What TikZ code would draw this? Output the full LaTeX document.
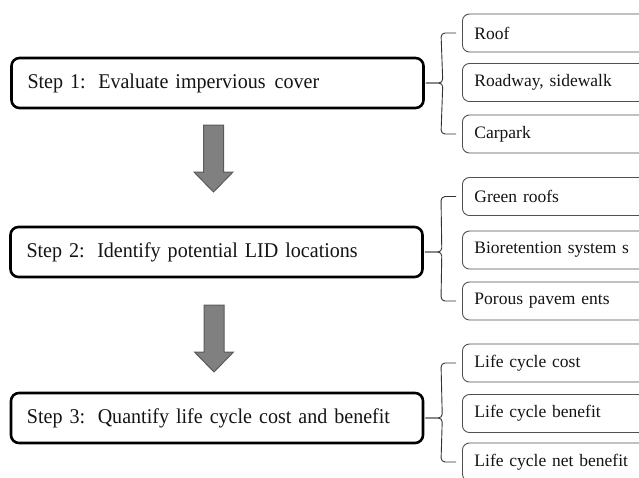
\documentclass[tikz,border=0pt]{standalone}
\usepackage{fontspec}
\setmainfont{Liberation Serif}
\newfontfamily\stepfont{Liberation Serif}[FakeStretch=0.955]
\usetikzlibrary{calc}
\definecolor{txt}{HTML}{141414}
\definecolor{arrfill}{HTML}{808080}
\definecolor{arrline}{HTML}{5A5A5A}
\definecolor{boxline}{HTML}{505050}
\tikzset{
  stepbox/.style={draw=black, line width=2.6pt, rounded corners=8pt, fill=white,
    minimum width=412pt, minimum height=50pt, inner xsep=16pt, text width=380pt,
    align=left, font=\stepfont\fontsize{21}{25}\selectfont, text=txt},
  itembox/.style={draw=boxline, line width=0.9pt, rounded corners=7pt, fill=white,
    minimum width=260pt, minimum height=38pt, anchor=west, inner xsep=12pt,
    text width=236pt, align=left, font=\fontsize{17.5}{21}\selectfont, text=txt},
  bracestyle/.style={draw=black!80, line width=0.9pt, rounded corners=4pt},
  bigarrow/.style={fill=arrfill, draw=arrline, line width=1pt, line join=miter}
}
\begin{document}
\begin{tikzpicture}[x=1pt,y=-1pt]
\useasboundingbox (0,0) rectangle (639,477);
\clip (0,0) rectangle (639,477);
% step boxes
\node[stepbox] (s1) at (217.5,83) {Step 1:\hspace{2pt} Evaluate impervious\hspace{2pt} cover};
\node[stepbox] (s2) at (216.5,252) {Step 2:\hspace{2pt} Identify potential LID locations};
\node[stepbox] (s3) at (217,418) {Step 3:\hspace{2pt} Quantify life cycle cost and benefit};
% item boxes
\node[itembox] (a1) at (462,33) {Roof};
\node[itembox] (a2) at (462,82.5) {Roadway, sidewalk};
\node[itembox] (a3) at (462,134) {Carpark};
\node[itembox] (b1) at (462,196.5) {Green roofs};
\node[itembox] (b2) at (462,250) {Bioretention system s};
\node[itembox] (b3) at (462,301) {Porous pavem ents};
\node[itembox] (c1) at (462,363) {Life cycle cost};
\node[itembox] (c2) at (462,413.5) {Life cycle benefit};
\node[itembox] (c3) at (462,462) {Life cycle net benefit};
% braces
\foreach \s/\t/\b in {s1/a1/a3, s2/b1/b3, s3/c1/c3}{
  \coordinate (tip) at ($(\s.east)+(1,0)$);
  \draw[bracestyle] ($(\t.west)+(-6,0)$) -- ($(\t.west)+(-21,0)$) -- ($(tip)+(17,0)$) -- (tip);
  \draw[bracestyle] ($(\b.west)+(-6,0)$) -- ($(\b.west)+(-21,0)$) -- ($(tip)+(17,0)$) -- (tip);
}
% arrows between steps
\coordinate (ar1) at (213.5,125);
\coordinate (ar2) at (214,305);
\draw[bigarrow] (ar1) ++(-10,0) -- ++(20,0) -- ++(0,47) -- ++(9.5,0) -- ++(-19.5,20) -- ++(-19.5,-20) -- ++(9.5,0) -- cycle;
\draw[bigarrow] (ar2) ++(-10,0) -- ++(20,0) -- ++(0,47) -- ++(9.5,0) -- ++(-19.5,20) -- ++(-19.5,-20) -- ++(9.5,0) -- cycle;
\end{tikzpicture}
\end{document}
